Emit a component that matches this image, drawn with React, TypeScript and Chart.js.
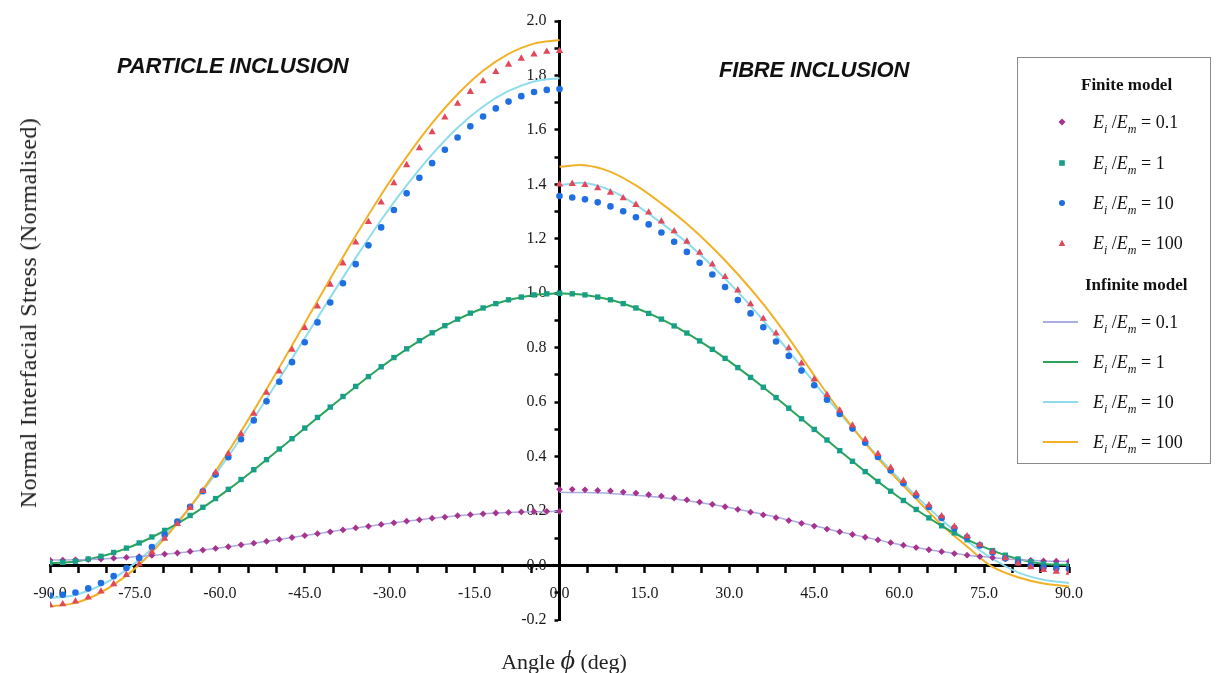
import React, { useEffect, useRef } from 'react';
import { Chart, registerables } from 'chart.js';

Chart.register(...registerables);

// ---------- angles (deg) ----------
const FINE_LEFT = [-90, -87.75, -85.5, -83.25, -81, -78.75, -76.5, -74.25, -72, -69.75, -67.5, -65.25, -63, -60.75, -58.5, -56.25, -54, -51.75, -49.5, -47.25, -45, -42.75, -40.5, -38.25, -36, -33.75, -31.5, -29.25, -27, -24.75, -22.5, -20.25, -18, -15.75, -13.5, -11.25, -9, -6.75, -4.5, -2.25, 0];
const FINE_RIGHT = [0, 2.25, 4.5, 6.75, 9, 11.25, 13.5, 15.75, 18, 20.25, 22.5, 24.75, 27, 29.25, 31.5, 33.75, 36, 38.25, 40.5, 42.75, 45, 47.25, 49.5, 51.75, 54, 56.25, 58.5, 60.75, 63, 65.25, 67.5, 69.75, 72, 74.25, 76.5, 78.75, 81, 83.25, 85.5, 87.75, 90];
const COARSE_LEFT = [-90, -85.5, -81, -76.5, -72, -67.5, -63, -58.5, -54, -49.5, -45, -40.5, -36, -31.5, -27, -22.5, -18, -13.5, -9, -4.5, 0];
const COARSE_RIGHT = [0, 4.5, 9, 13.5, 18, 22.5, 27, 31.5, 36, 40.5, 45, 49.5, 54, 58.5, 63, 67.5, 72, 76.5, 81, 85.5, 90];

// ---------- finite model (markers) ----------
const FINITE_01_L = [0.020, 0.020, 0.021, 0.022, 0.024, 0.027, 0.030, 0.033, 0.037, 0.042, 0.046, 0.052, 0.057, 0.063, 0.069, 0.076, 0.082, 0.089, 0.096, 0.103, 0.110, 0.117, 0.124, 0.131, 0.138, 0.144, 0.151, 0.157, 0.163, 0.168, 0.174, 0.178, 0.183, 0.187, 0.190, 0.193, 0.195, 0.197, 0.198, 0.199, 0.199];
const FINITE_01_R = [0.280, 0.280, 0.278, 0.276, 0.274, 0.270, 0.266, 0.260, 0.255, 0.248, 0.241, 0.233, 0.225, 0.216, 0.206, 0.196, 0.186, 0.176, 0.165, 0.155, 0.145, 0.134, 0.124, 0.114, 0.104, 0.094, 0.084, 0.075, 0.066, 0.058, 0.051, 0.044, 0.038, 0.033, 0.029, 0.025, 0.021, 0.019, 0.017, 0.016, 0.015];
const FINITE_1_L = [0.010, 0.012, 0.016, 0.024, 0.034, 0.048, 0.064, 0.083, 0.105, 0.129, 0.155, 0.184, 0.214, 0.246, 0.280, 0.316, 0.352, 0.389, 0.428, 0.466, 0.505, 0.544, 0.582, 0.621, 0.658, 0.694, 0.730, 0.764, 0.796, 0.826, 0.855, 0.881, 0.905, 0.927, 0.946, 0.962, 0.976, 0.986, 0.994, 0.998, 1.000];
const FINITE_1_R = [1.000, 0.998, 0.994, 0.986, 0.976, 0.962, 0.946, 0.926, 0.905, 0.880, 0.854, 0.825, 0.794, 0.761, 0.727, 0.691, 0.655, 0.617, 0.578, 0.539, 0.500, 0.461, 0.422, 0.383, 0.345, 0.309, 0.273, 0.239, 0.206, 0.175, 0.146, 0.120, 0.095, 0.074, 0.055, 0.038, 0.024, 0.014, 0.006, 0.002, 0.000];
const FINITE_10_L = [-0.110, -0.107, -0.099, -0.084, -0.064, -0.039, -0.009, 0.027, 0.068, 0.113, 0.162, 0.216, 0.273, 0.334, 0.398, 0.464, 0.533, 0.603, 0.675, 0.747, 0.820, 0.893, 0.966, 1.037, 1.107, 1.176, 1.242, 1.306, 1.367, 1.424, 1.478, 1.527, 1.572, 1.613, 1.649, 1.679, 1.704, 1.724, 1.739, 1.747, 1.750];
const FINITE_10_R = [1.357, 1.352, 1.345, 1.334, 1.319, 1.301, 1.279, 1.253, 1.223, 1.189, 1.152, 1.112, 1.069, 1.023, 0.975, 0.926, 0.875, 0.823, 0.770, 0.716, 0.662, 0.609, 0.557, 0.503, 0.451, 0.399, 0.349, 0.302, 0.257, 0.215, 0.175, 0.138, 0.104, 0.074, 0.048, 0.027, 0.011, 0.000, -0.007, -0.011, -0.013];
const FINITE_100_L = [-0.145, -0.142, -0.132, -0.117, -0.095, -0.068, -0.034, 0.005, 0.049, 0.099, 0.153, 0.212, 0.274, 0.341, 0.411, 0.483, 0.558, 0.635, 0.713, 0.793, 0.873, 0.952, 1.032, 1.110, 1.187, 1.262, 1.334, 1.404, 1.471, 1.533, 1.592, 1.646, 1.696, 1.740, 1.779, 1.813, 1.840, 1.862, 1.877, 1.887, 1.890];
const FINITE_100_R = [1.400, 1.402, 1.398, 1.386, 1.370, 1.349, 1.325, 1.297, 1.264, 1.228, 1.190, 1.149, 1.106, 1.060, 1.011, 0.960, 0.907, 0.853, 0.798, 0.742, 0.684, 0.627, 0.570, 0.515, 0.462, 0.410, 0.359, 0.311, 0.265, 0.222, 0.181, 0.143, 0.108, 0.077, 0.050, 0.027, 0.008, -0.006, -0.016, -0.022, -0.026];

// ---------- infinite model (lines) ----------
const INFINITE_01_L = [0.020, 0.021, 0.024, 0.030, 0.037, 0.046, 0.057, 0.069, 0.082, 0.096, 0.110, 0.124, 0.138, 0.151, 0.163, 0.174, 0.183, 0.190, 0.195, 0.198, 0.199];
const INFINITE_01_R = [0.269, 0.268, 0.265, 0.258, 0.250, 0.238, 0.224, 0.207, 0.188, 0.167, 0.146, 0.124, 0.104, 0.084, 0.066, 0.051, 0.038, 0.029, 0.021, 0.017, 0.015];
const INFINITE_1_L = [0.008, 0.015, 0.033, 0.063, 0.104, 0.154, 0.213, 0.279, 0.351, 0.427, 0.504, 0.581, 0.657, 0.729, 0.795, 0.854, 0.904, 0.945, 0.975, 0.994, 1.000];
const INFINITE_1_R = [1.000, 0.994, 0.976, 0.946, 0.905, 0.854, 0.794, 0.727, 0.655, 0.578, 0.500, 0.422, 0.345, 0.273, 0.206, 0.146, 0.095, 0.055, 0.024, 0.006, 0.002];
const INFINITE_10_L = [-0.120, -0.108, -0.073, -0.016, 0.062, 0.160, 0.274, 0.401, 0.540, 0.686, 0.835, 0.984, 1.130, 1.269, 1.396, 1.510, 1.608, 1.686, 1.743, 1.778, 1.790];
const INFINITE_10_R = [1.398, 1.405, 1.378, 1.325, 1.258, 1.186, 1.100, 1.005, 0.900, 0.787, 0.672, 0.560, 0.452, 0.350, 0.255, 0.168, 0.090, 0.025, -0.025, -0.052, -0.064];
const INFINITE_100_L = [-0.150, -0.137, -0.099, -0.037, 0.049, 0.155, 0.279, 0.418, 0.569, 0.727, 0.890, 1.053, 1.211, 1.362, 1.501, 1.625, 1.731, 1.817, 1.879, 1.917, 1.930];
const INFINITE_100_R = [1.465, 1.470, 1.446, 1.396, 1.330, 1.255, 1.168, 1.070, 0.960, 0.835, 0.698, 0.568, 0.450, 0.342, 0.245, 0.150, 0.070, -0.005, -0.043, -0.066, -0.077];

// ---------- text ----------
const RATIOS = ['0.1', '1', '10', '100'];
const X_MIN = -90, X_MAX = 90, X_STEP = 5, X_LABEL_EVERY = 15;
const Y_MIN = -0.2, Y_MAX = 2.0, Y_STEP = 0.1;

const C_PURPLE = '#a8328f';
const C_GREEN_M = '#17a087';
const C_BLUE = '#1f6fe3';
const C_RED = '#e2475a';
const C_PURPLE_L = '#a9addf';
const C_GREEN_L = '#2ca35a';
const C_CYAN_L = '#8fdcec';
const C_YELLOW_L = '#f2b126';

const SERIF = '"Liberation Serif", "Times New Roman", serif';
const SANS = '"Liberation Sans", Arial, sans-serif';

const pts = (xs: number[], ys: number[]) => xs.map((x, i) => ({ x, y: ys[i] }));

// Places the y axis (reserved width 0 in the layout) on the x = 0 line of the x scale.
const yAxisAtZero = {
  id: 'yAxisAtZero',
  afterLayout(chart: any) {
    const ys = chart.scales.y;
    const px = chart.scales.x.getPixelForValue(0);
    ys.left = px - 80; // label clip area
    ys.right = px;     // axis line position
  },
};

function Marker({ kind, color }: { kind: string; color: string }) {
  return (
    <svg width={10} height={10} viewBox="0 0 10 10" style={{ display: 'block' }}>
      {kind === 'diamond' && <polygon points="5,1.5 8.5,5 5,8.5 1.5,5" fill={color} />}
      {kind === 'square' && <rect x={2.2} y={2.2} width={5.6} height={5.6} fill={color} />}
      {kind === 'circle' && <circle cx={5} cy={5} r={3} fill={color} />}
      {kind === 'triangle' && <polygon points="5,1.8 8.3,8 1.7,8" fill={color} />}
    </svg>
  );
}

function Ratio({ value }: { value: string }) {
  const sub: React.CSSProperties = { fontSize: 12, fontStyle: 'italic', position: 'relative', top: 5 };
  return (
    <span style={{ fontFamily: SERIF, fontSize: 18, color: '#111', whiteSpace: 'nowrap' }}>
      <i>E</i><span style={sub}>i</span> /<i>E</i><span style={sub}>m</span> = {value}
    </span>
  );
}

export default function App() {
  const ref = useRef<HTMLCanvasElement>(null);

  useEffect(() => {
    const canvas = ref.current;
    if (!canvas) return;

    const markerDs = (label: string, l: number[], r: number[], color: string, style: string, radius: number, order: number) => ({
      label,
      data: [...pts(FINE_LEFT, l), ...pts(FINE_RIGHT, r)],
      showLine: false,
      pointStyle: style,
      pointRadius: radius,
      pointBackgroundColor: color,
      pointBorderColor: color,
      pointBorderWidth: 0,
      order,
    });
    const lineDs = (label: string, l: number[], r: number[], color: string, width: number, order: number) => ({
      label,
      data: [...pts(COARSE_LEFT, l), { x: 0, y: null }, ...pts(COARSE_RIGHT, r)],
      borderColor: color,
      backgroundColor: color,
      borderWidth: width,
      pointRadius: 0,
      tension: 0.35,
      spanGaps: false,
      fill: false,
      order,
    });

    const chart = new Chart(canvas, {
      type: 'line',
      data: {
        datasets: [
          markerDs('Finite Ei/Em = 100', FINITE_100_L, FINITE_100_R, C_RED, 'triangle', 4.2, 0),
          markerDs('Finite Ei/Em = 10', FINITE_10_L, FINITE_10_R, C_BLUE, 'circle', 3.3, 1),
          markerDs('Finite Ei/Em = 1', FINITE_1_L, FINITE_1_R, C_GREEN_M, 'rect', 3.8, 2),
          markerDs('Finite Ei/Em = 0.1', FINITE_01_L, FINITE_01_R, C_PURPLE, 'rectRot', 3.4, 3),
          lineDs('Infinite Ei/Em = 0.1', INFINITE_01_L, INFINITE_01_R, C_PURPLE_L, 1.5, 4),
          lineDs('Infinite Ei/Em = 1', INFINITE_1_L, INFINITE_1_R, C_GREEN_L, 2, 5),
          lineDs('Infinite Ei/Em = 100', INFINITE_100_L, INFINITE_100_R, C_YELLOW_L, 2, 6),
          lineDs('Infinite Ei/Em = 10', INFINITE_10_L, INFINITE_10_R, C_CYAN_L, 2, 7),
        ] as any,
      },
      plugins: [yAxisAtZero],
      options: {
        animation: false,
        responsive: false,
        maintainAspectRatio: false,
        events: [],
        layout: { padding: { left: 50, right: 149, top: 21, bottom: 53 } },
        plugins: { legend: { display: false }, tooltip: { enabled: false }, title: { display: false } },
        scales: {
          x: {
            type: 'linear',
            min: X_MIN,
            max: X_MAX,
            position: { y: 0 } as any,
            afterFit: (s: any) => { s.height = 0; },
            border: { display: true, color: '#000', width: 3 },
            grid: { display: true, drawOnChartArea: false, drawTicks: true, tickLength: 6, tickWidth: 2.5, tickColor: '#000' },
            ticks: {
              stepSize: X_STEP,
              autoSkip: false,
              maxRotation: 0,
              padding: 13,
              color: '#1a1a1a',
              font: { family: SERIF, size: 16 },
              callback: (v: any) => (Math.round(Number(v)) % X_LABEL_EVERY === 0 ? Number(v).toFixed(1) : ''),
            },
          },
          y: {
            type: 'linear',
            min: Y_MIN,
            max: Y_MAX,
            position: 'left',
            afterFit: (s: any) => { s.width = 0; },
            border: { display: true, color: '#000', width: 3 },
            grid: { display: true, drawOnChartArea: false, drawTicks: true, tickLength: 5, tickWidth: 2.5, tickColor: '#000' },
            ticks: {
              stepSize: Y_STEP,
              autoSkip: false,
              padding: 8,
              color: '#1a1a1a',
              font: { family: SERIF, size: 16 },
              callback: (v: any) => (Math.round(Number(v) * 10) % 2 === 0 ? Number(v).toFixed(1) : ''),
            },
          },
        },
      } as any,
    });
    return () => chart.destroy();
  }, []);

  const finiteKinds = ['diamond', 'square', 'circle', 'triangle'];
  const finiteColors = [C_PURPLE, C_GREEN_M, C_BLUE, C_RED];
  const lineColors = [C_PURPLE_L, C_GREEN_L, C_CYAN_L, C_YELLOW_L];
  const lineWidths = [1.5, 2.5, 2, 2];
  const finiteY = [122, 163, 203, 243];
  const infiniteY = [322, 362, 402, 442];

  const abs = (top: number, left: number, extra: React.CSSProperties = {}): React.CSSProperties => ({
    position: 'absolute', top, left, transform: 'translateY(-50%)', lineHeight: 1, ...extra,
  });

  return (
    <div style={{ position: 'fixed', left: 0, top: 0, width: 1218, height: 673, background: '#fff', overflow: 'hidden' }}>
      <canvas ref={ref} width={1218} height={673} style={{ position: 'absolute', left: 0, top: 0, width: 1218, height: 673 }} />

      <div style={abs(66, 117, { fontFamily: SANS, fontWeight: 'bold', fontStyle: 'italic', fontSize: 22, letterSpacing: -0.2, color: '#111' })}>PARTICLE INCLUSION</div>
      <div style={abs(70, 719, { fontFamily: SANS, fontWeight: 'bold', fontStyle: 'italic', fontSize: 22, letterSpacing: -0.2, color: '#111' })}>FIBRE INCLUSION</div>

      <div style={{ position: 'absolute', left: 28, top: 313, transform: 'translate(-50%, -50%) rotate(-90deg)', fontFamily: SERIF, fontSize: 24, letterSpacing: 0.4, color: '#222', whiteSpace: 'nowrap', lineHeight: 1 }}>
        Normal Interfacial Stress (Normalised)
      </div>

      <div style={{ position: 'absolute', left: 564, top: 660, transform: 'translate(-50%, -50%)', fontFamily: SERIF, fontSize: 22, color: '#222', whiteSpace: 'nowrap', lineHeight: 1 }}>
        Angle <span style={{ fontStyle: 'italic', fontSize: 28 }}>ϕ</span> (deg)
      </div>

      <div style={{ position: 'absolute', left: 1017, top: 57, width: 194, height: 407, border: '1px solid #8a8a8a', boxSizing: 'border-box' }} />
      <div style={abs(84, 1081, { fontFamily: SERIF, fontWeight: 'bold', fontSize: 17, color: '#111' })}>Finite model</div>
      <div style={abs(284, 1085, { fontFamily: SERIF, fontWeight: 'bold', fontSize: 17, color: '#111' })}>Infinite model</div>
      {RATIOS.map((r, i) => (
        <React.Fragment key={'f' + r}>
          <div style={{ position: 'absolute', left: 1057, top: finiteY[i] - 5 }}>
            <Marker kind={finiteKinds[i]} color={finiteColors[i]} />
          </div>
          <div style={abs(finiteY[i], 1093)}><Ratio value={r} /></div>
        </React.Fragment>
      ))}
      {RATIOS.map((r, i) => (
        <React.Fragment key={'i' + r}>
          <div style={{ position: 'absolute', left: 1043, top: infiniteY[i] - lineWidths[i] / 2, width: 35, height: lineWidths[i], background: lineColors[i] }} />
          <div style={abs(infiniteY[i], 1093)}><Ratio value={r} /></div>
        </React.Fragment>
      ))}
    </div>
  );
}
